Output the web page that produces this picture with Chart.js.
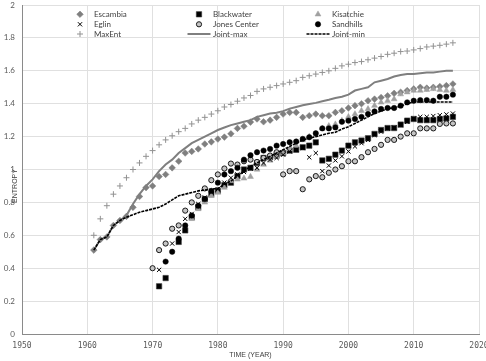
<!DOCTYPE html>
<html>
<head>
<meta charset="utf-8">
<script src="https://cdn.jsdelivr.net/npm/chart.js@4.4.1/dist/chart.umd.min.js"></script>
<style>
  html, body { margin: 0; padding: 0; background: #fff; }
  #wrap { width: 486px; height: 361px; }
</style>
</head>
<body>
<div id="wrap"><canvas id="chart"></canvas></div>
<script>
// Années (axe x)
const years = [1961, 1962, 1963, 1964, 1965, 1966, 1967, 1968, 1969, 1970,
  1971, 1972, 1973, 1974, 1975, 1976, 1977, 1978, 1979, 1980,
  1981, 1982, 1983, 1984, 1985, 1986, 1987, 1988, 1989, 1990,
  1991, 1992, 1993, 1994, 1995, 1996, 1997, 1998, 1999, 2000,
  2001, 2002, 2003, 2004, 2005, 2006, 2007, 2008, 2009, 2010,
  2011, 2012, 2013, 2014, 2015, 2016];

// Séries (null = pas de point)
const escambia = [0.51, 0.574, 0.59, 0.66, 0.69, 0.715, 0.77, 0.836, 0.89, 0.90,
  0.957, 0.97, 1.01, 1.05, 1.10, 1.11, 1.125, 1.155, 1.168, 1.185,
  1.197, 1.217, 1.25, 1.263, 1.288, 1.307, 1.29, 1.30, 1.317, 1.337,
  1.347, 1.347, 1.317, 1.327, 1.337, 1.327, 1.327, 1.347, 1.357, 1.374,
  1.388, 1.40, 1.418, 1.428, 1.438, 1.448, 1.463, 1.47, 1.48, 1.49,
  1.50, 1.495, 1.50, 1.505, 1.51, 1.52];

const blackwater = [null, null, null, null, null, null, null, null, null, null,
  0.29, 0.34, null, 0.56, 0.63, 0.71, 0.77, 0.82, 0.85, 0.87,
  0.905, 0.92, 0.96, 1.00, 1.01, 1.04, 1.07, 1.075, 1.085, 1.10,
  1.115, 1.12, 1.135, 1.145, 1.165, 1.055, 1.065, 1.09, 1.115, 1.145,
  1.165, 1.176, 1.19, 1.216, 1.24, 1.252, 1.252, 1.273, 1.297, 1.307,
  1.30, 1.30, 1.30, 1.307, 1.31, 1.32];

const kisatchie = [null, null, null, null, null, null, null, null, null, null,
  null, null, null, null, null, 0.70, 0.76, 0.80, 0.84, 0.86,
  0.89, 0.93, 0.94, 0.946, 0.956, 1.00, 1.03, 1.055, 1.08, 1.10,
  1.125, 1.145, 1.18, 1.20, 1.21, 1.25, 1.265, 1.275, 1.297, 1.32,
  1.337, 1.357, 1.368, 1.388, 1.408, 1.418, 1.428, 1.458, 1.47, 1.48,
  1.48, 1.485, 1.49, 1.485, 1.48, 1.485];

const eglin = [null, null, null, null, null, null, null, null, null, null,
  0.39, null, 0.55, 0.62, 0.70, 0.73, 0.79, 0.83, 0.87, 0.88,
  0.92, 0.95, 0.97, 0.985, 1.006, 1.01, 1.04, 1.06, 1.07, 1.09,
  1.11, 1.12, 1.13, 1.074, 1.10, 0.99, 1.024, 1.055, 1.08, 1.11,
  1.14, 1.16, 1.18, 1.21, 1.23, 1.25, 1.255, 1.27, 1.29, 1.31,
  1.32, 1.32, 1.325, 1.33, 1.335, 1.34];

const jonesCenter = [null, null, null, null, null, null, null, null, null, 0.40,
  0.51, 0.55, 0.64, 0.66, 0.75, 0.80, 0.84, 0.885, 0.935, 0.97,
  1.006, 1.036, 1.03, 1.05, 1.06, 1.046, 1.07, 1.085, 1.105, 0.97,
  0.99, 0.99, 0.88, 0.94, 0.96, 0.953, 0.98, 1.00, 1.02, 1.05,
  1.05, 1.075, 1.105, 1.125, 1.15, 1.18, 1.18, 1.20, 1.22, 1.22,
  1.25, 1.25, 1.25, 1.277, 1.28, 1.28];

const sandhills = [null, null, null, null, null, null, null, null, null, null,
  null, 0.44, 0.50, 0.58, 0.66, 0.72, 0.78, 0.82, 0.87, 0.92,
  0.97, 0.99, 1.01, 1.06, 1.087, 1.105, 1.115, 1.125, 1.145, 1.155,
  1.166, 1.17, 1.186, 1.196, 1.22, 1.25, 1.25, 1.256, 1.29, 1.297,
  1.307, 1.32, 1.337, 1.353, 1.368, 1.374, 1.374, 1.388, 1.408, 1.418,
  1.422, 1.422, 1.418, 1.442, 1.442, 1.455];

const maxEnt = [0.60, 0.70, 0.78, 0.85, 0.90, 0.95, 1.00, 1.04, 1.08, 1.115,
  1.15, 1.18, 1.205, 1.23, 1.25, 1.277, 1.30, 1.317, 1.337, 1.357,
  1.38, 1.395, 1.415, 1.435, 1.45, 1.475, 1.49, 1.50, 1.51, 1.52,
  1.53, 1.54, 1.56, 1.57, 1.58, 1.59, 1.60, 1.615, 1.63, 1.64,
  1.65, 1.656, 1.667, 1.677, 1.687, 1.70, 1.707, 1.717, 1.72, 1.727,
  1.735, 1.745, 1.75, 1.755, 1.762, 1.77];

const jointMax = [0.51, 0.574, 0.59, 0.66, 0.69, 0.72, 0.79, 0.85, 0.90, 0.94,
  0.99, 1.03, 1.06, 1.10, 1.13, 1.16, 1.18, 1.20, 1.22, 1.24,
  1.255, 1.27, 1.28, 1.29, 1.30, 1.32, 1.33, 1.34, 1.345, 1.355,
  1.37, 1.38, 1.39, 1.398, 1.405, 1.415, 1.424, 1.435, 1.442, 1.455,
  1.48, 1.49, 1.50, 1.53, 1.54, 1.55, 1.565, 1.575, 1.58, 1.58,
  1.585, 1.59, 1.59, 1.595, 1.60, 1.60];

const jointMin = [0.51, 0.574, 0.59, 0.66, 0.69, 0.71, 0.725, 0.74, 0.75, 0.76,
  0.77, 0.79, 0.815, 0.84, 0.85, 0.86, 0.87, 0.875, 0.88, 0.885,
  0.91, 0.93, 0.96, 0.99, 1.02, 1.04, 1.06, 1.08, 1.10, 1.12,
  1.14, 1.16, 1.18, 1.19, 1.20, 1.21, 1.22, 1.226, 1.246, 1.26,
  1.28, 1.30, 1.32, 1.34, 1.355, 1.37, 1.375, 1.385, 1.40, 1.41,
  1.41, 1.41, 1.41, 1.41, 1.41, 1.41];

const seriesNames = ['Escambia', 'Blackwater', 'Kisatchie', 'Eglin', 'Jones Center',
  'Sandhills', 'MaxEnt', 'Joint-max', 'Joint-min'];

// Points {x, y} à partir des tableaux
function toPoints(values) {
  return years.map(function(yr, i) { return { x: yr, y: values[i] }; })
    .filter(function(p) { return p.y !== null; });
}

function pointSet(label, values, style, radius, fill, border, bw, order) {
  return {
    label: label,
    data: toPoints(values),
    showLine: false,
    pointStyle: style,
    pointRadius: radius,
    pointBackgroundColor: fill,
    pointBorderColor: border,
    pointBorderWidth: bw,
    order: order
  };
}

const datasets = [
  pointSet('Escambia', escambia, 'rectRot', 3.3, '#7f7f7f', '#7f7f7f', 0.5, 9),
  pointSet('Blackwater', blackwater, 'rect', 3.8, '#000', '#3a3a3a', 0.6, 8),
  pointSet('Kisatchie', kisatchie, 'triangle', 3.4, '#a0a0a0', '#a0a0a0', 0.5, 7),
  pointSet('Eglin', eglin, 'crossRot', 3, '#000', '#000', 1, 6),
  pointSet('Jones Center', jonesCenter, 'circle', 2.6, '#c4c4c4', '#1a1a1a', 1, 5),
  pointSet('Sandhills', sandhills, 'circle', 2.7, '#000', '#000', 0.5, 4),
  pointSet('MaxEnt', maxEnt, 'cross', 3, '#929292', '#929292', 1, 3),
  {
    label: 'Joint-max',
    data: toPoints(jointMax),
    showLine: true,
    pointRadius: 0,
    borderColor: '#7f7f7f',
    borderWidth: 2,
    order: 2
  },
  {
    label: 'Joint-min',
    data: toPoints(jointMin),
    showLine: true,
    pointRadius: 0,
    borderColor: '#000',
    borderWidth: 1.6,
    borderDash: [3, 1],
    order: 1
  }
];

// Légende en 3 colonnes dans la zone du graphique, comme sur l'original
const gridLegend = {
  id: 'gridLegend',
  afterDraw: function(chart) {
    const ctx = chart.ctx;
    const area = chart.chartArea;
    const colX = [58, 177, 296];
    const rowY = [9.3, 19.3, 29];
    ctx.save();
    ctx.font = '8px Lato';
    ctx.textBaseline = 'middle';
    ctx.textAlign = 'left';
    chart.data.datasets.forEach(function(ds, i) {
      const cx = area.left + colX[i % 3];
      const cy = area.top + rowY[Math.floor(i / 3)];
      if (ds.showLine) {
        ctx.beginPath();
        ctx.lineWidth = ds.borderWidth;
        ctx.strokeStyle = ds.borderColor;
        ctx.setLineDash(ds.borderDash || []);
        ctx.moveTo(cx - 11.5, cy);
        ctx.lineTo(cx + 11.5, cy);
        ctx.stroke();
        ctx.setLineDash([]);
      } else if (Chart.helpers && Chart.helpers.drawPoint) {
        ctx.fillStyle = ds.pointBackgroundColor;
        ctx.strokeStyle = ds.pointBorderColor;
        ctx.lineWidth = ds.pointBorderWidth;
        Chart.helpers.drawPoint(ctx, {
          pointStyle: ds.pointStyle,
          radius: ds.pointRadius,
          rotation: 0,
          borderWidth: ds.pointBorderWidth
        }, cx, cy);
      }
      ctx.fillStyle = '#404040';
      ctx.fillText(seriesNames[i], cx + 14, cy + 0.5);
    });

    // Titre de l'axe y
    ctx.translate(15, 186);
    ctx.rotate(-Math.PI / 2);
    ctx.font = '7px "Liberation Sans"';
    ctx.textAlign = 'center';
    ctx.fillStyle = '#404040';
    ctx.fillText('ENTROPY', 0, 0);
    ctx.restore();
  }
};

new Chart(document.getElementById('chart'), {
  type: 'scatter',
  data: { datasets: datasets },
  options: {
    responsive: true,
    maintainAspectRatio: false,
    animation: false,
    layout: { padding: { top: 4, right: 7, left: 0, bottom: 0 } },
    plugins: {
      legend: { display: false },
      tooltip: { enabled: false }
    },
    scales: {
      x: {
        type: 'linear',
        min: 1950,
        max: 2020,
        ticks: {
          stepSize: 10,
          color: '#595959',
          font: { family: 'DejaVu Sans Mono', size: 8 },
          padding: 7,
          maxRotation: 0,
          callback: function(v) { return String(v); }
        },
        grid: { color: '#e0e0e0', drawTicks: false },
        border: { color: '#8a8a8a' },
        title: {
          display: true,
          text: 'TIME (YEAR)',
          color: '#404040',
          font: { family: 'Liberation Sans', size: 7 },
          padding: { top: 0, bottom: 2 }
        },
        afterFit: function(scale) {
          scale.paddingLeft = 0;
          scale.paddingRight = 0;
          scale.height = 27;
        }
      },
      y: {
        min: 0,
        max: 2,
        ticks: {
          stepSize: 0.2,
          color: '#595959',
          font: { family: 'Lato', size: 8 },
          padding: 7,
          callback: function(v) { return String(Number(v.toFixed(1))); }
        },
        grid: { color: '#e0e0e0', drawTicks: false },
        border: { color: '#8a8a8a' },
        afterFit: function(scale) {
          scale.width = 22;
          scale.paddingTop = 0;
          scale.paddingBottom = 0;
        }
      }
    }
  },
  plugins: [gridLegend]
});
</script>
</body>
</html>
